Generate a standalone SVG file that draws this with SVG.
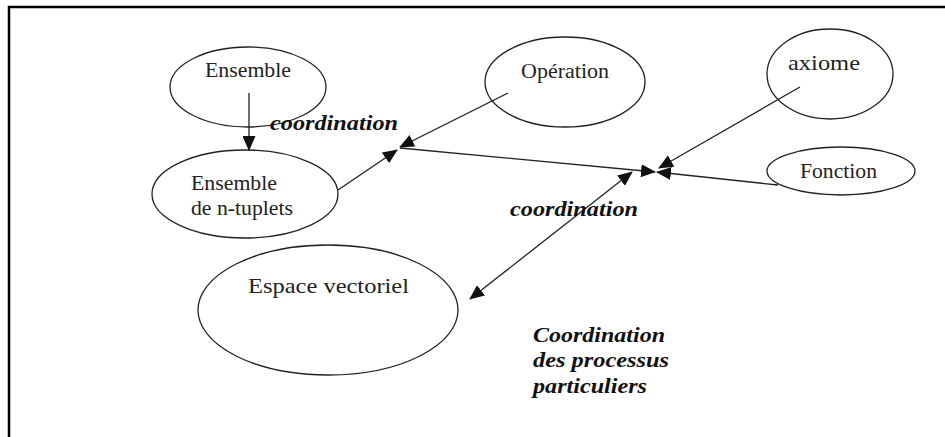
<svg xmlns="http://www.w3.org/2000/svg" width="945" height="437" viewBox="0 0 945 437">
<style>
.node ellipse{fill:#fff;stroke:#222;stroke-width:1.3}
.node text{font-family:'Liberation Serif','DejaVu Serif','Times New Roman',Times,serif;font-size:22px;fill:#222}
.conn line{stroke:#222;stroke-width:1.3}
.lbl{font-family:'Liberation Serif','DejaVu Serif','Times New Roman',Times,serif;font-size:20px;font-weight:bold;font-style:italic;fill:#111}
</style>
<defs>
<marker id="ah" markerUnits="userSpaceOnUse" markerWidth="15" markerHeight="13" refX="14" refY="6.5" orient="auto" viewBox="0 0 15 13">
<path d="M0,0 L15,6.5 L0,13 z" fill="#111"/>
</marker>
<marker id="as" markerUnits="userSpaceOnUse" markerWidth="15" markerHeight="13" refX="1" refY="6.5" orient="auto" viewBox="0 0 15 13">
<path d="M15,0 L0,6.5 L15,13 z" fill="#111"/>
</marker>
</defs>
<rect width="945" height="437" fill="#fff"/>
<g id="frame" stroke="#000" stroke-width="2.5" fill="none">
<line x1="8" y1="7" x2="945" y2="7"/>
<line x1="9" y1="6" x2="9" y2="437"/>
</g>
<g id="n-ensemble" class="node">
<ellipse cx="248" cy="87" rx="78" ry="40"/>
<text x="205" y="77" textLength="86" lengthAdjust="spacingAndGlyphs">Ensemble</text>
</g>
<g id="n-ntuplets" class="node">
<ellipse cx="245" cy="194" rx="93" ry="44"/>
<text x="191" y="190" textLength="86" lengthAdjust="spacingAndGlyphs">Ensemble</text>
<text x="191" y="215" textLength="102" lengthAdjust="spacingAndGlyphs">de n-tuplets</text>
</g>
<g id="n-operation" class="node">
<ellipse cx="565" cy="82" rx="80" ry="45"/>
<text x="521" y="78" textLength="88" lengthAdjust="spacingAndGlyphs">Opération</text>
</g>
<g id="n-axiome" class="node">
<ellipse cx="830" cy="74" rx="63" ry="45"/>
<text x="788" y="70" textLength="72" lengthAdjust="spacingAndGlyphs">axiome</text>
</g>
<g id="n-fonction" class="node">
<ellipse cx="841" cy="171" rx="74" ry="24"/>
<text x="800" y="178" textLength="77" lengthAdjust="spacingAndGlyphs">Fonction</text>
</g>
<g id="n-espace" class="node">
<ellipse cx="328" cy="310" rx="130" ry="65"/>
<text x="248" y="293" textLength="161" lengthAdjust="spacingAndGlyphs">Espace vectoriel</text>
</g>
<g id="connectors" class="conn">
<line x1="249" y1="93" x2="249" y2="150" marker-end="url(#ah)"/>
<line x1="338" y1="190" x2="397" y2="150" marker-end="url(#ah)"/>
<line x1="508" y1="93" x2="400" y2="147" marker-end="url(#ah)"/>
<line x1="400" y1="148" x2="655" y2="172" marker-end="url(#ah)"/>
<line x1="800" y1="87" x2="659" y2="168" marker-end="url(#ah)"/>
<line x1="778" y1="185" x2="657" y2="172" marker-end="url(#ah)"/>
<line x1="470" y1="299" x2="632" y2="172" marker-start="url(#as)" marker-end="url(#ah)"/>
</g>
<g id="labels">
<text class="lbl" x="270" y="130" textLength="128" lengthAdjust="spacingAndGlyphs">coordination</text>
<text class="lbl" x="510" y="216" textLength="128" lengthAdjust="spacingAndGlyphs">coordination</text>
<text class="lbl" x="533" y="342" textLength="132" lengthAdjust="spacingAndGlyphs">Coordination</text>
<text class="lbl" x="533" y="367" textLength="136" lengthAdjust="spacingAndGlyphs">des processus</text>
<text class="lbl" x="533" y="393" textLength="114" lengthAdjust="spacingAndGlyphs">particuliers</text>
</g>
</svg>
